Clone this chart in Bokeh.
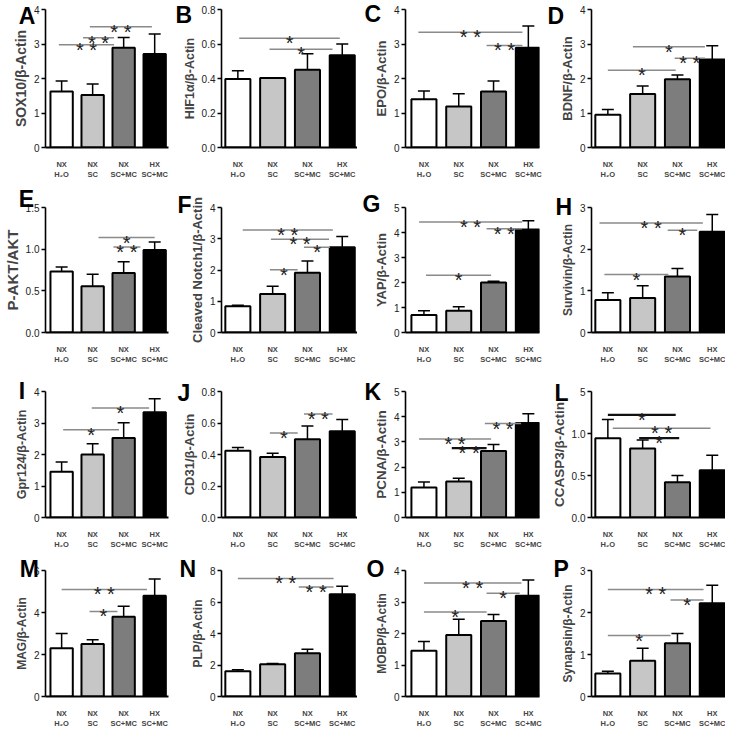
from bokeh.plotting import figure
from bokeh.layouts import gridplot
from bokeh.models import ColumnDataSource, Whisker, TeeHead, FixedTicker, Range1d
from bokeh.core.properties import value
from bokeh.embed import file_html
from bokeh.resources import INLINE

# ---------------- data ----------------
groups = ["NX\nH\u2082O", "NX\nSC", "NX\nSC+MC", "HX\nSC+MC"]
bar_colors = ["#ffffff", "#c6c6c6", "#7d7d7d", "#000000"]

A_mean = [1.62, 1.52, 2.89, 2.71]; A_sem = [0.31, 0.32, 0.30, 0.58]
B_mean = [0.397, 0.403, 0.451, 0.535]; B_sem = [0.048, 0.0, 0.092, 0.065]
C_mean = [1.40, 1.19, 1.62, 2.89]; C_sem = [0.24, 0.37, 0.31, 0.63]
D_mean = [0.95, 1.55, 1.98, 2.55]; D_sem = [0.15, 0.23, 0.12, 0.40]
E_mean = [0.733, 0.556, 0.715, 0.99]; E_sem = [0.052, 0.144, 0.135, 0.095]
F_mean = [0.84, 1.23, 1.91, 2.73]; F_sem = [0.03, 0.25, 0.38, 0.34]
G_mean = [0.70, 0.87, 2.00, 4.12]; G_sem = [0.17, 0.16, 0.05, 0.35]
H_mean = [0.78, 0.83, 1.345, 2.42]; H_sem = [0.175, 0.295, 0.19, 0.41]
I_mean = [1.45, 2.00, 2.52, 3.34]; I_sem = [0.31, 0.34, 0.49, 0.43]
J_mean = [0.424, 0.384, 0.4975, 0.547]; J_sem = [0.02, 0.024, 0.0835, 0.076]
K_mean = [1.19, 1.425, 2.64, 3.75]; K_sem = [0.22, 0.135, 0.26, 0.37]
L_mean = [0.944, 0.822, 0.42, 0.563]; L_sem = [0.223, 0.10, 0.08, 0.177]
M_mean = [2.3, 2.5, 3.8, 4.8]; M_sem = [0.7, 0.2, 0.5, 0.8]
N_mean = [1.6, 2.05, 2.75, 6.5]; N_sem = [0.1, 0.05, 0.25, 0.5]
O_mean = [1.45, 1.95, 2.4, 3.2]; O_sem = [0.3, 0.5, 0.2, 0.5]
P_mean = [0.55, 0.85, 1.27, 2.22]; P_sem = [0.05, 0.3, 0.23, 0.43]

ticks_0_4 = [0, 1, 2, 3, 4]; labels_0_4 = ["0", "1", "2", "3", "4"]
ticks_0_5 = [0, 1, 2, 3, 4, 5]; labels_0_5 = ["0", "1", "2", "3", "4", "5"]
ticks_0_3 = [0, 1, 2, 3]; labels_0_3 = ["0", "1", "2", "3"]
ticks_08 = [0, 0.2, 0.4, 0.6, 0.8]; labels_08 = ["0.0", "0.2", "0.4", "0.6", "0.8"]
ticks_15 = [0, 0.5, 1.0, 1.5]; labels_15 = ["0.0", "0.5", "1.0", "1.5"]
labels_15_L = ["0.0", "0.5", "1.0", "5"]
ticks_0_6 = [0, 2, 4, 6]; labels_0_6 = ["0", "2", "4", "6"]
ticks_0_8 = [0, 2, 4, 6, 8]; labels_0_8 = ["0", "2", "4", "6", "8"]

# significance brackets: (from group, to group, height, stars, black?)
A_sig = [(-0.09, 1.69, 2.98, "**", 0), (0.69, 1.69, 3.18, "**", 0), (0.91, 2.91, 3.5, "**", 0)]
B_sig = [(0.04, 2.93, 0.633, "*", 0), (0.91, 2.72, 0.570, "*", 0)]
C_sig = [(-0.16, 2.83, 3.34, "**", 0), (1.8, 2.83, 2.96, "**", 0)]
D_sig = [(0.0, 1.95, 2.24, "*", 0), (1.92, 2.79, 2.59, "**", 0), (0.72, 2.79, 2.92, "*", 0)]
E_sig = [(1.19, 3.0, 1.14, "*", 0), (1.67, 2.54, 1.026, "**", 0)]
F_sig = [(0.92, 1.72, 2.01, "*", 0), (1.9, 2.65, 2.73, "*", 0), (0.95, 2.62, 2.985, "**", 0), (0.14, 2.73, 3.28, "**", 0)]
G_sig = [(0.06, 1.93, 2.29, "*", 0), (1.8, 2.82, 4.15, "**", 0), (-0.14, 2.82, 4.42, "**", 0)]
H_sig = [(-0.1, 1.74, 1.39, "*", 0), (1.72, 2.57, 2.456, "*", 0), (-0.24, 2.73, 2.63, "**", 0)]
I_sig = [(0.05, 1.85, 2.785, "*", 0), (0.97, 2.82, 3.48, "*", 0)]
J_sig = [(0.92, 1.72, 0.537, "*", 0), (1.9, 2.72, 0.657, "**", 0)]
K_sig = [(-0.14, 1.93, 3.12, "**", 0), (0.8, 1.8, 2.75, "**", 1), (1.75, 2.79, 3.73, "**", 0)]
L_sig = [(0.0, 1.95, 1.222, "*", 1), (0.14, 2.95, 1.063, "**", 0), (0.9, 2.05, 0.944, "*", 1)]
M_sig = [(0.0, 2.75, 5.1, "**", 0), (0.9, 1.8, 4.05, "*", 0)]
N_sig = [(0.0, 2.75, 7.5, "**", 0), (1.75, 2.75, 6.95, "**", 0)]
O_sig = [(0.0, 2.8, 3.6, "**", 0), (1.8, 2.75, 3.28, "*", 0), (0.0, 1.8, 2.68, "*", 0)]
P_sig = [(0.0, 2.75, 2.55, "**", 0), (1.8, 2.75, 2.3, "*", 0), (0.0, 1.8, 1.45, "*", 0)]

panels = [
    ("A", "SOX10/\u03b2-Actin", A_mean, A_sem, ticks_0_4, labels_0_4, A_sig),
    ("B", "HIF1\u03b1/\u03b2-Actin", B_mean, B_sem, ticks_08, labels_08, B_sig),
    ("C", "EPO/\u03b2-Actin", C_mean, C_sem, ticks_0_4, labels_0_4, C_sig),
    ("D", "BDNF/\u03b2-Actin", D_mean, D_sem, ticks_0_4, labels_0_4, D_sig),
    ("E", "P-AKT/AKT", E_mean, E_sem, ticks_15, labels_15, E_sig),
    ("F", "Cleaved Notch1/\u03b2-Actin", F_mean, F_sem, ticks_0_4, labels_0_4, F_sig),
    ("G", "YAP/\u03b2-Actin", G_mean, G_sem, ticks_0_5, labels_0_5, G_sig),
    ("H", "Survivin/\u03b2-Actin", H_mean, H_sem, ticks_0_3, labels_0_3, H_sig),
    ("I", "Gpr124/\u03b2-Actin", I_mean, I_sem, ticks_0_4, labels_0_4, I_sig),
    ("J", "CD31/\u03b2-Actin", J_mean, J_sem, ticks_08, labels_08, J_sig),
    ("K", "PCNA/\u03b2-Actin", K_mean, K_sem, ticks_0_5, labels_0_5, K_sig),
    ("L", "CCASP3/\u03b2-Actin", L_mean, L_sem, ticks_15, labels_15_L, L_sig),
    ("M", "MAG/\u03b2-Actin", M_mean, M_sem, ticks_0_6, labels_0_6, M_sig),
    ("N", "PLP/\u03b2-Actin", N_mean, N_sem, ticks_0_8, labels_0_8, N_sig),
    ("O", "MOBP/\u03b2-Actin", O_mean, O_sem, ticks_0_4, labels_0_4, O_sig),
    ("P", "Synapsin/\u03b2-Actin", P_mean, P_sem, ticks_0_3, labels_0_3, P_sig),
]

# ---------------- layout / style ----------------
FONT = "Liberation Sans"
col_width = [172, 185, 185, 183]
col_left = [30, 49, 48, 49]
col_frame_w = [138, 136, 134, 134]
col_xstart = [-0.52, -0.47, -0.53, -0.47]
px_per_unit = 34.8
row_height = [182, 185, 185, 179]
row_bottom = [35, 27, 27, 26]
frame_top = [7, 8, 9, 7, 23, 25, 18, 18, 23, 24, 23, 22, 18, 18, 18, 18]
ylabel_size = [14, 12.5, 13, 13, 15, 13, 13, 12, 12.5, 13, 13.5, 13.5, 12, 12, 12, 12]
letter_cx = [0, 3, 7, 5, 0, 5, 5, 13, 0, 5, 7, 12, 1, 7, 9, 11]
letter_cy = [0, 0, 0, 0, 0, 8, 0, 3, 8, 12, 10, 10, 2, 2, 2, 2]

figs = []
for i, (letter, ylabel, mean, sem, yt, ytl, sig) in enumerate(panels):
    r, c = divmod(i, 4)
    W, H = col_width[c], row_height[r]
    left, top, bottom = col_left[c], frame_top[i], row_bottom[r]
    fw = col_frame_w[c]
    right = max(W - left - fw, 0)
    fh = H - top - bottom
    x0 = col_xstart[c]
    ymax = yt[-1]
    p = figure(width=W, height=H, output_backend="svg", toolbar_location=None,
               x_range=Range1d(x0, x0 + fw / px_per_unit), y_range=Range1d(0, ymax),
               min_border_left=left, min_border_right=right,
               min_border_top=top, min_border_bottom=bottom)
    p.outline_line_color = None
    p.xgrid.visible = False
    p.ygrid.visible = False
    p.background_fill_color = "white"

    upper = [m + s for m, s in zip(mean, sem)]
    src = ColumnDataSource(dict(x=[0, 1, 2, 3], mean=mean, upper=upper, color=bar_colors))
    p.vbar(x="x", top="mean", width=0.72, fill_color="color", line_color="black",
           line_width=2, source=src)
    p.add_layout(Whisker(source=src, base="x", lower="mean", upper="upper",
                         line_color="black", line_width=1.5, lower_head=None,
                         upper_head=TeeHead(size=12, line_color="black", line_width=1.5)))

    sx0 = [s[0] for s in sig]; sx1 = [s[1] for s in sig]; sy = [s[2] for s in sig]
    stxt = [" ".join(s[3]) for s in sig]
    scol = ["#111111" if s[4] else "#8a8a8a" for s in sig]
    swid = [2.2 if s[4] else 1.5 for s in sig]
    ssrc = ColumnDataSource(dict(x0=sx0, x1=sx1, y=sy, t=stxt, col=scol, w=swid,
                                 xm=[(a + b) / 2 for a, b in zip(sx0, sx1)]))
    p.segment(x0="x0", y0="y", x1="x1", y1="y", line_color="col", line_width="w", source=ssrc)
    p.text(x="xm", y="y", text="t", source=ssrc, text_align="center",
           text_baseline="alphabetic", text_font=value(FONT), text_font_size="20px",
           text_color="#222222", y_offset=5)

    # panel letter (drawn at overlay level so it is not clipped to the frame)
    lx = x0 + (letter_cx[i] - left) / px_per_unit
    ly = ymax + (top - letter_cy[i]) / fh * ymax
    p.text(x=[lx], y=[ly], text=[letter], text_align="left", text_baseline="top",
           text_font=value(FONT), text_font_style="bold", text_font_size="23px",
           text_color="black", level="overlay")

    # axes
    p.yaxis.ticker = FixedTicker(ticks=yt)
    p.yaxis.major_label_overrides = {t: l for t, l in zip(yt, ytl)}
    p.yaxis.axis_label = ylabel
    p.yaxis.axis_label_text_font = FONT
    p.yaxis.axis_label_text_font_style = "bold"
    p.yaxis.axis_label_text_font_size = f"{ylabel_size[i]}px"
    p.yaxis.axis_label_standoff = 2
    p.yaxis.major_label_text_font = FONT
    p.yaxis.major_label_text_font_size = "10px"
    p.yaxis.major_label_text_color = "#222222"
    p.yaxis.major_label_standoff = 2
    p.yaxis.major_tick_out = 4
    p.yaxis.major_tick_in = 0
    p.yaxis.minor_tick_line_color = None
    p.yaxis.axis_line_width = 1.6
    p.yaxis.major_tick_line_width = 1.4

    p.xaxis.ticker = FixedTicker(ticks=[0, 1, 2, 3])
    p.xaxis.major_label_overrides = {k: g for k, g in enumerate(groups)}
    p.xaxis.major_label_text_font = FONT
    p.xaxis.major_label_text_font_style = "bold"
    p.xaxis.major_label_text_font_size = "7.5px"
    p.xaxis.major_label_standoff = 6
    p.xaxis.major_tick_line_color = None
    p.xaxis.minor_tick_line_color = None
    p.xaxis.axis_line_width = 2
    figs.append(p)

grid = gridplot([figs[0:4], figs[4:8], figs[8:12], figs[12:16]], toolbar_location=None)

open("out.html", "w").write(file_html(grid, INLINE))
